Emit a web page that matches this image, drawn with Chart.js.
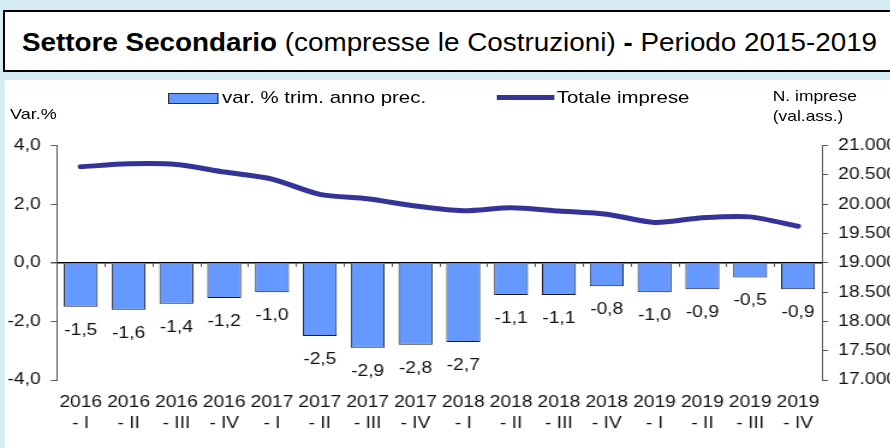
<!DOCTYPE html>
<html lang="it">
<head>
<meta charset="utf-8">
<script src="https://cdn.jsdelivr.net/npm/chart.js@4/dist/chart.umd.min.js"></script>
<style>
html, body { margin: 0; padding: 0; width: 890px; height: 448px; overflow: hidden; background: #d5ebf3; }
body { font-family: "Liberation Sans", Arial, sans-serif; color: #000; }
/* the reference is stretched horizontally, so the page is drawn narrower and scaled */
#page { position: absolute; left: 0; top: 0; width: 742px; height: 448px; transform: scaleX(1.2); transform-origin: 0 0; }
#titlebox { position: absolute; left: 3px; top: 10px; width: 900px; height: 58px; border: 2px solid #000; background: #fff; }
#title { position: absolute; left: 17px; top: 1px; line-height: 58px; white-space: nowrap; font-size: 26px; transform: scaleX(1.07); transform-origin: 0 0; }
#panel { position: absolute; left: 4.2px; top: 80px; width: 780px; height: 380px; background: #fff; }
#wrap { position: absolute; left: 4.2px; top: 80px; width: 737.5px; height: 368px; }
.lbl { position: absolute; white-space: nowrap; line-height: 1; }
#legBar { position: absolute; left: 140px; top: 92.5px; width: 40px; height: 9px; background: #6699ff; border: 1px solid #333; }
#legLine { position: absolute; left: 414px; top: 95px; width: 48px; height: 5px; background: #333399; }
</style>
</head>
<body>
<div id="titlebox"><div id="title"><b>Settore Secondario</b> (compresse le Costruzioni) <b>-</b> Periodo 2015-2019</div></div>
<div id="page">
  <div id="panel"></div>
  <div id="wrap"><canvas id="chart"></canvas></div>
  <div id="legBar"></div>
  <div class="lbl" style="left:185px; top:89px; font-size:17px;">var. % trim. anno prec.</div>
  <div id="legLine"></div>
  <div class="lbl" style="left:464px; top:89px; font-size:17px;">Totale imprese</div>
  <div class="lbl" style="left:644px; top:89px; font-size:14.5px;">N. imprese</div>
  <div class="lbl" style="left:644px; top:109px; font-size:14.5px;">(val.ass.)</div>
  <div class="lbl" style="left:8.3px; top:106px; font-size:15px;">Var.%</div>
</div>
<script>
// Data
const quarters = [
  ['2016', '- I'], ['2016', '- II'], ['2016', '- III'], ['2016', '- IV'],
  ['2017', '- I'], ['2017', '- II'], ['2017', '- III'], ['2017', '- IV'],
  ['2018', '- I'], ['2018', '- II'], ['2018', '- III'], ['2018', '- IV'],
  ['2019', '- I'], ['2019', '- II'], ['2019', '- III'], ['2019', '- IV']
];
const varPct = [-1.5, -1.6, -1.4, -1.2, -1.0, -2.5, -2.9, -2.8, -2.7, -1.1, -1.1, -0.8, -1.0, -0.9, -0.5, -0.9];
const totaleImprese = [20640, 20690, 20680, 20550, 20430, 20170, 20095, 19970, 19890, 19940, 19885, 19830, 19690, 19770, 19785, 19625];

const barColor = '#6699ff';
const lineColor = '#333399';
const axisColor = '#555555';

function fmtComma(v) {
    return v.toFixed(1).replace('.', ',');
}
function fmtThousands(v) {
    return String(v).replace(/\B(?=(\d{3})+(?!\d))/g, '.');
}

// Value labels under each bar and the small ticks on the zero line
const extrasPlugin = {
    id: 'extras',
    afterDatasetsDraw(chart) {
        const ctx = chart.ctx;
        const x = chart.scales.x;
        const y = chart.scales.y;
        const zero = y.getPixelForValue(0);

        ctx.save();
        ctx.strokeStyle = axisColor;
        ctx.lineWidth = 1;
        for (let i = 1; i < quarters.length; i++) {
            const px = Math.round((x.getPixelForValue(i - 1) + x.getPixelForValue(i)) / 2) + 0.5;
            ctx.beginPath();
            ctx.moveTo(px, zero);
            ctx.lineTo(px, zero + 4);
            ctx.stroke();
        }

        const meta = chart.getDatasetMeta(1);
        ctx.fillStyle = '#111';
        ctx.font = '16px "Liberation Sans", Arial, sans-serif';
        ctx.textAlign = 'center';
        ctx.textBaseline = 'middle';
        meta.data.forEach((bar, i) => {
            ctx.fillText(fmtComma(varPct[i]), bar.x, bar.y + 23.5);
        });
        ctx.restore();
    }
};

const chart = new Chart(document.getElementById('chart').getContext('2d'), {
    data: {
        labels: quarters,
        datasets: [{
            type: 'line',
            label: 'Totale imprese',
            data: totaleImprese,
            yAxisID: 'y1',
            borderColor: lineColor,
            borderWidth: 5,
            borderCapStyle: 'round',
            borderJoinStyle: 'round',
            pointRadius: 0,
            tension: 0.25,
            fill: false,
            order: 0
        }, {
            type: 'bar',
            label: 'var. % trim. anno prec.',
            data: varPct,
            yAxisID: 'y',
            backgroundColor: barColor,
            borderColor: '#1a1a1a',
            borderWidth: 1,
            categoryPercentage: 1,
            barPercentage: 0.71,
            order: 1
        }]
    },
    options: {
        responsive: true,
        maintainAspectRatio: false,
        animation: false,
        layout: { padding: { top: 65.7, left: 0, right: 0, bottom: 0 } },
        plugins: {
            legend: { display: false },
            tooltip: { enabled: false }
        },
        scales: {
            x: {
                grid: { display: false, drawTicks: false },
                border: { display: false },
                ticks: {
                    color: '#111',
                    padding: 12.6,
                    maxRotation: 0,
                    autoSkip: false,
                    font: { family: '"Liberation Sans", Arial, sans-serif', size: 16, lineHeight: 1.3 }
                },
                afterFit(scale) { scale.height = 68; }
            },
            y: {
                position: 'left',
                min: -4,
                max: 4,
                grid: {
                    drawOnChartArea: true,
                    color: c => (c.tick && c.tick.value === 0 ? '#000' : 'rgba(0,0,0,0)'),
                    lineWidth: c => (c.tick && c.tick.value === 0 ? 1.5 : 1),
                    tickColor: axisColor,
                    tickLength: 5
                },
                border: { display: true, color: axisColor, width: 1 },
                ticks: {
                    stepSize: 2,
                    color: '#111',
                    padding: 8.5,
                    callback: v => fmtComma(v),
                    font: { family: '"Liberation Sans", Arial, sans-serif', size: 16 }
                },
                afterFit(scale) { scale.width = 43.3; }
            },
            y1: {
                position: 'right',
                min: 17000,
                max: 21000,
                grid: { drawOnChartArea: false, tickColor: axisColor, tickLength: 5 },
                border: { display: true, color: axisColor, width: 1 },
                ticks: {
                    stepSize: 500,
                    color: '#111',
                    padding: 8.5,
                    callback: v => fmtThousands(v),
                    font: { family: '"Liberation Sans", Arial, sans-serif', size: 16 }
                },
                afterFit(scale) { scale.width = 57.5; }
            }
        }
    },
    plugins: [extrasPlugin]
});
</script>
</body>
</html>
